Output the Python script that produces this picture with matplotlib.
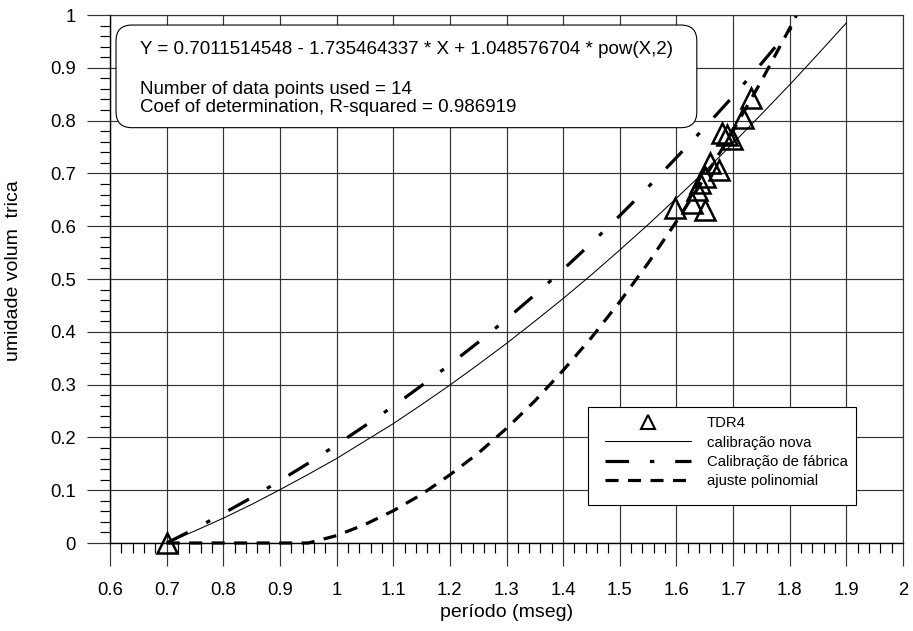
import matplotlib
matplotlib.use('Agg')
import matplotlib.pyplot as plt
from matplotlib.patches import FancyBboxPatch, Rectangle
from matplotlib.lines import Line2D
from matplotlib.ticker import MultipleLocator, FixedLocator, FixedFormatter
from matplotlib.transforms import Bbox, TransformedBbox

plt.rcParams['font.family'] = ['Liberation Sans', 'DejaVu Sans']
plt.rcParams['lines.scale_dashes'] = False

# measured points (TDR4)
tdr4_x = [0.700, 1.598, 1.628, 1.637, 1.642, 1.651, 1.651, 1.660, 1.675, 1.681, 1.689, 1.698, 1.718, 1.731]
tdr4_y = [0.000, 0.634, 0.643, 0.669, 0.682, 0.694, 0.631, 0.719, 0.706, 0.776, 0.773, 0.766, 0.804, 0.842]

# calibracao nova (thin solid)
nova_x = [0.70, 0.75, 0.80, 0.85, 0.90, 0.95, 1.00, 1.05, 1.10, 1.15, 1.20, 1.25, 1.30,
          1.35, 1.40, 1.45, 1.50, 1.55, 1.60, 1.65, 1.70, 1.75, 1.80, 1.85, 1.90]
nova_y = [0.000, 0.023, 0.047, 0.073, 0.101, 0.130, 0.160, 0.193, 0.226, 0.262, 0.299, 0.338, 0.378,
          0.420, 0.463, 0.508, 0.555, 0.603, 0.653, 0.704, 0.757, 0.812, 0.868, 0.926, 0.985]

# calibracao de fabrica (dash-dot)
fab_x = [0.70, 0.75, 0.80, 0.85, 0.90, 0.95, 1.00, 1.05, 1.10, 1.15, 1.20, 1.25,
         1.30, 1.35, 1.40, 1.45, 1.50, 1.55, 1.60, 1.65, 1.70, 1.75, 1.80, 1.82]
fab_y = [0.000, 0.027, 0.056, 0.086, 0.118, 0.151, 0.186, 0.222, 0.259, 0.298, 0.338, 0.380,
         0.424, 0.470, 0.518, 0.568, 0.620, 0.674, 0.730, 0.787, 0.846, 0.908, 0.972, 1.000]

# ajuste polinomial (dashed)
poli_x = [0.70, 0.75, 0.80, 0.85, 0.90, 0.95, 1.00, 1.05, 1.10, 1.15, 1.20, 1.25,
          1.30, 1.35, 1.40, 1.45, 1.50, 1.55, 1.60, 1.65, 1.70, 1.75, 1.80, 1.82]
poli_y = [0.000, 0.000, 0.000, 0.000, 0.000, 0.000, 0.014, 0.035, 0.061, 0.092, 0.129, 0.170,
          0.217, 0.269, 0.327, 0.389, 0.457, 0.530, 0.609, 0.692, 0.781, 0.875, 0.975, 1.016]

x_ticks = [0.6, 0.7, 0.8, 0.9, 1.0, 1.1, 1.2, 1.3, 1.4, 1.5, 1.6, 1.7, 1.8, 1.9, 2.0]
x_labels = ['0.6', '0.7', '0.8', '0.9', '1', '1.1', '1.2', '1.3', '1.4', '1.5', '1.6', '1.7', '1.8', '1.9', '2']
y_ticks = [0.0, 0.1, 0.2, 0.3, 0.4, 0.5, 0.6, 0.7, 0.8, 0.9, 1.0]
y_labels = ['0', '0.1', '0.2', '0.3', '0.4', '0.5', '0.6', '0.7', '0.8', '0.9', '1']

labels = ['TDR4', 'calibração nova', 'Calibração de fábrica', 'ajuste polinomial']
fit_lines = ['Y = 0.7011514548 - 1.735464337 * X + 1.048576704 * pow(X,2)',
             'Number of data points used = 14',
             'Coef of determination, R-squared = 0.986919']

fig = plt.figure(figsize=(9.13, 6.31), dpi=100)
ax = fig.add_axes([110 / 913, 88 / 631, 793 / 913, 528 / 631])
ax.set_xlim(0.6, 2.0)
ax.set_ylim(0, 1)

grid_c = '#333333'
ax.xaxis.set_major_locator(FixedLocator(x_ticks))
ax.xaxis.set_major_formatter(FixedFormatter(x_labels))
ax.yaxis.set_major_locator(FixedLocator(y_ticks))
ax.yaxis.set_major_formatter(FixedFormatter(y_labels))
ax.xaxis.set_minor_locator(MultipleLocator(0.02))
ax.yaxis.set_minor_locator(MultipleLocator(0.02))
ax.tick_params(which='major', direction='out', length=16.5, width=0.85, color=grid_c, labelsize=13.3)
ax.tick_params(axis='x', which='major', pad=11.5)
ax.tick_params(axis='y', which='major', pad=8)
ax.tick_params(which='minor', direction='out', length=7.5, width=0.85, color='black')
ax.grid(which='major', color=grid_c, lw=0.85)

for s in ['top', 'right']:
    ax.spines[s].set_color(grid_c)
    ax.spines[s].set_linewidth(0.85)
for s in ['left', 'bottom']:
    ax.spines[s].set_color('black')
    ax.spines[s].set_linewidth(1.0)

clip = TransformedBbox(Bbox([[0.55, -0.05], [2.05, 1.0]]), ax.transData)

l_nova, = ax.plot(nova_x, nova_y, color='black', lw=0.75)
l_fab, = ax.plot(fab_x, fab_y, color='black', lw=2.3, linestyle=(0, (17, 15, 3.2, 15)))
l_poli, = ax.plot(poli_x, poli_y, color='black', lw=2.3, linestyle=(0, (9.4, 6.8)))
for ln in (l_nova, l_fab, l_poli):
    ln.set_clip_box(clip)

ax.plot(tdr4_x, tdr4_y, linestyle='none', marker='^', markersize=14, markerfacecolor='none',
        markeredgecolor='black', markeredgewidth=1.8, clip_on=False, zorder=4)

# fit info box
box = FancyBboxPatch((0.0076, 0.7866), 0.7324, 0.1944, transform=ax.transAxes,
                     boxstyle='round,pad=0,rounding_size=0.02', mutation_aspect=793 / 528,
                     facecolor='white', edgecolor='black', lw=0.8, zorder=5)
ax.add_patch(box)
for txt, yy in zip(fit_lines, [0.927, 0.850, 0.8157]):
    ax.text(0.0378, yy, txt, transform=ax.transAxes, fontsize=13.5, va='baseline', ha='left', zorder=6)

# legend
ax.add_patch(Rectangle((0.603, 0.072), 0.338, 0.186, transform=ax.transAxes,
                       facecolor='white', edgecolor='black', lw=0.8, zorder=5))
tri = Line2D([], [], linestyle='none', marker='^', markersize=9.5, markerfacecolor='none',
             markeredgecolor='black', markeredgewidth=1.5)
leg = ax.legend([tri, l_nova, l_fab, l_poli], labels, loc='upper left',
                bbox_to_anchor=(0.6242, 0.240), frameon=False, fontsize=10.7,
                handlelength=5.8, handletextpad=1.05, labelspacing=0.36, borderpad=0,
                borderaxespad=0)
leg.set_zorder(6)

ax.set_xlabel('período (mseg)', fontsize=14)
ax.xaxis.set_label_coords(0.5, -0.1155)
ax.set_ylabel('umidade volum  trica', fontsize=14)
ax.yaxis.set_label_coords(-0.111, 0.515)

fig.savefig('out.png', dpi=100)
